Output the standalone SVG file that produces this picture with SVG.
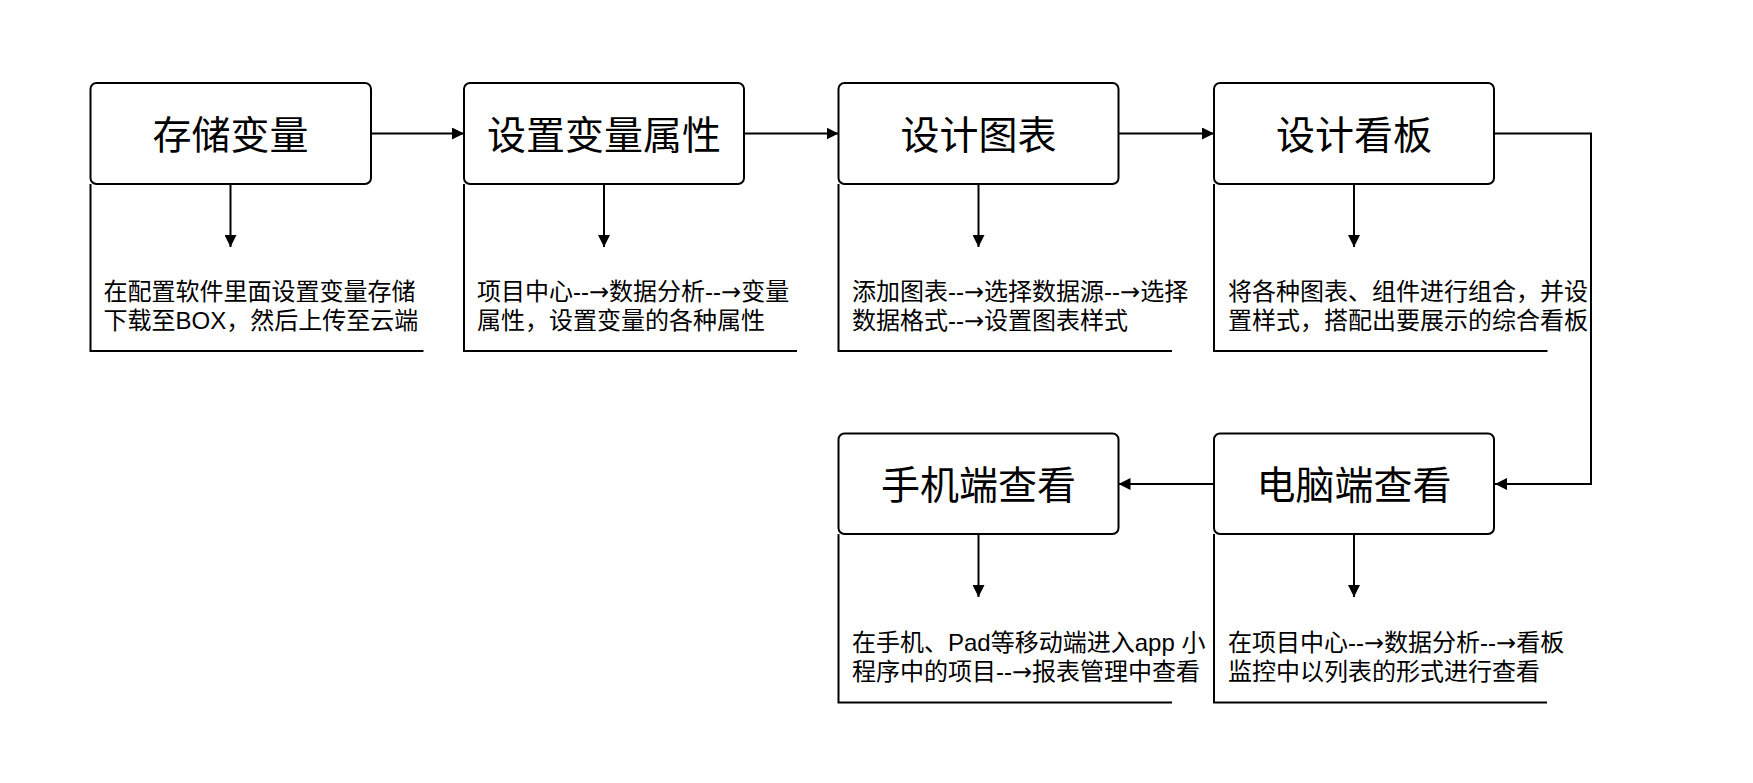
<svg xmlns="http://www.w3.org/2000/svg" width="1753" height="783" viewBox="0 0 1753 783">
<style>
.box{fill:#fff;stroke:#000;stroke-width:2}
.desc{fill:none;stroke:#000;stroke-width:2}
.title{font-family:'Liberation Sans','Noto Sans CJK SC',sans-serif;font-size:39px;fill:#000;text-anchor:middle}
.txt{font-family:'Liberation Sans','Noto Sans CJK SC',sans-serif;font-size:24px;fill:#000}
.ar{font-family:'DejaVu Sans',sans-serif}
.con{fill:none;stroke:#000;stroke-width:2}
</style>
<defs>
<marker id="arr" markerUnits="userSpaceOnUse" markerWidth="12" markerHeight="12" refX="12" refY="6" orient="auto" viewBox="0 0 12 12">
<path d="M0,0 L12,6 L0,12 Z" fill="#000"/>
</marker>
</defs>
<rect width="1753" height="783" fill="#fff"/>

<g id="node-store">
<rect class="box" x="90.5" y="83" width="280.5" height="101" rx="6"/>
<text class="title" x="230.5" y="148.5">存储变量</text>
<path class="desc" d="M90.5,184 V351 H423.5"/>
<text class="txt" x="103.5" y="300">在配置软件里面设置变量存储</text>
<text class="txt" x="103.5" y="329">下载至BOX，然后上传至云端</text>
</g>

<g id="node-attr">
<rect class="box" x="464" y="83" width="280" height="101" rx="6"/>
<text class="title" x="604" y="148.5">设置变量属性</text>
<path class="desc" d="M464,184 V351 H797"/>
<text class="txt" x="477" y="300">项目中心--<tspan class="ar">→</tspan>数据分析--<tspan class="ar">→</tspan>变量</text>
<text class="txt" x="477" y="329">属性，设置变量的各种属性</text>
</g>

<g id="node-chart">
<rect class="box" x="838.5" y="83" width="280" height="101" rx="6"/>
<text class="title" x="978.5" y="148.5">设计图表</text>
<path class="desc" d="M838.5,184 V351 H1172"/>
<text class="txt" x="852" y="300">添加图表--<tspan class="ar">→</tspan>选择数据源--<tspan class="ar">→</tspan>选择</text>
<text class="txt" x="852" y="329">数据格式--<tspan class="ar">→</tspan>设置图表样式</text>
</g>

<g id="node-board">
<rect class="box" x="1214" y="83" width="280" height="101" rx="6"/>
<text class="title" x="1354" y="148.5">设计看板</text>
<path class="desc" d="M1214,184 V351 H1547.5"/>
<text class="txt" x="1228" y="300">将各种图表、组件进行组合，并设</text>
<text class="txt" x="1228" y="329">置样式，搭配出要展示的综合看板</text>
</g>

<g id="node-pc">
<rect class="box" x="1214" y="433.5" width="280" height="100.5" rx="6"/>
<text class="title" x="1354" y="499">电脑端查看</text>
<path class="desc" d="M1214,534 V702.5 H1547"/>
<text class="txt" x="1228" y="651">在项目中心--<tspan class="ar">→</tspan>数据分析--<tspan class="ar">→</tspan>看板</text>
<text class="txt" x="1228" y="680">监控中以列表的形式进行查看</text>
</g>

<g id="node-mobile">
<rect class="box" x="838.5" y="433.5" width="280" height="100.5" rx="6"/>
<text class="title" x="978.5" y="499">手机端查看</text>
<path class="desc" d="M838.5,534 V702.5 H1172"/>
<text class="txt" x="852" y="651">在手机、Pad等移动端进入app 小</text>
<text class="txt" x="852" y="680">程序中的项目--<tspan class="ar">→</tspan>报表管理中查看</text>
</g>

<g id="connectors">
<path class="con" d="M371,133.5 H464" marker-end="url(#arr)"/>
<path class="con" d="M744,133.5 H838.5" marker-end="url(#arr)"/>
<path class="con" d="M1118.5,133.5 H1214" marker-end="url(#arr)"/>
<path class="con" d="M1494,133.5 H1591 V484 H1495" marker-end="url(#arr)"/>
<path class="con" d="M1214,484 H1118.5" marker-end="url(#arr)"/>
<path class="con" d="M230.5,184 V247" marker-end="url(#arr)"/>
<path class="con" d="M604,184 V247" marker-end="url(#arr)"/>
<path class="con" d="M978.5,184 V247" marker-end="url(#arr)"/>
<path class="con" d="M1354,184 V247" marker-end="url(#arr)"/>
<path class="con" d="M1354,534 V597" marker-end="url(#arr)"/>
<path class="con" d="M978.5,534 V597" marker-end="url(#arr)"/>
</g>
</svg>
